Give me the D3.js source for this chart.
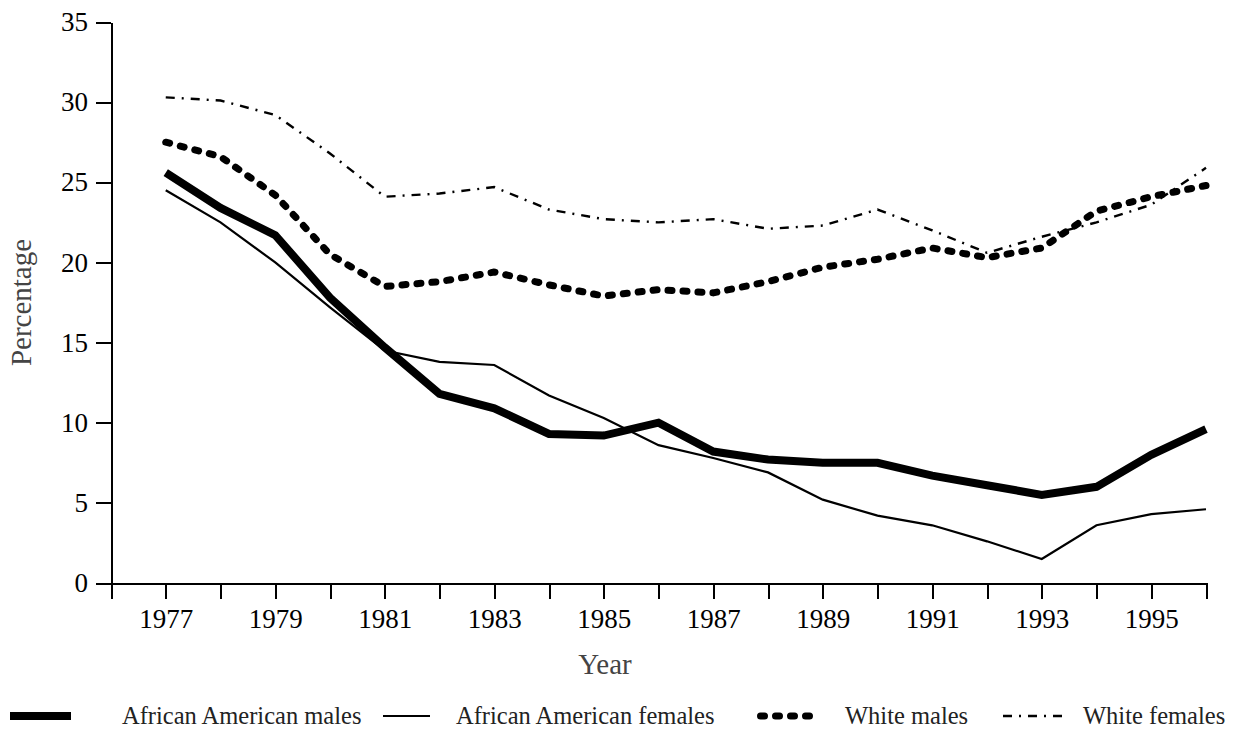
<!DOCTYPE html>
<html>
<head>
<meta charset="utf-8">
<script src="https://cdn.jsdelivr.net/npm/d3@7"></script>
<style>
  body { margin: 0; background: #fff; }
  svg { display: block; }
  .axis path, .axis line { stroke: #000; stroke-width: 2; shape-rendering: crispEdges; }
  .axis text { font-family: "Liberation Serif", "Times New Roman", serif; font-size: 27px; fill: #000; }
  .title { font-family: "Liberation Serif", serif; font-size: 29px; fill: #444; }
  .legend text { font-family: "Liberation Serif", serif; font-size: 24.5px; fill: #222; }
</style>
</head>
<body>
<div id="chart"></div>
<script>
// years on the x axis
var years = [1977, 1978, 1979, 1980, 1981, 1982, 1983, 1984, 1985, 1986,
             1987, 1988, 1989, 1990, 1991, 1992, 1993, 1994, 1995, 1996];

var aaMales   = [25.6, 23.4, 21.7, 17.8, 14.7, 11.8, 10.9, 9.3, 9.2, 10.0,
                 8.2, 7.7, 7.5, 7.5, 6.7, 6.1, 5.5, 6.0, 8.0, 9.6];
var aaFemales = [24.5, 22.5, 20.0, 17.2, 14.5, 13.8, 13.6, 11.7, 10.3, 8.6,
                 7.8, 6.9, 5.2, 4.2, 3.6, 2.6, 1.5, 3.6, 4.3, 4.6];
var whMales   = [27.5, 26.6, 24.2, 20.5, 18.5, 18.8, 19.4, 18.6, 17.9, 18.3,
                 18.1, 18.8, 19.7, 20.2, 20.9, 20.3, 20.9, 23.2, 24.1, 24.8];
var whFemales = [30.3, 30.1, 29.2, 26.8, 24.1, 24.3, 24.7, 23.3, 22.7, 22.5,
                 22.7, 22.1, 22.3, 23.3, 22.0, 20.6, 21.6, 22.5, 23.6, 25.9];

var yTicks = [0, 5, 10, 15, 20, 25, 30, 35];
var xTicks = d3.range(1976, 1997);
var xLabels = [1977, 1979, 1981, 1983, 1985, 1987, 1989, 1991, 1993, 1995];

var seriesNames = ['African American males', 'African American females', 'White males', 'White females'];

var W = 1234, H = 736;
var margin = {top: 22, right: 28, bottom: 153, left: 111};

// line styles per series
var styles = [
  {width: 8, dash: null, cap: 'butt', join: 'miter'},
  {width: 2.2, dash: null, cap: 'butt', join: 'miter'},
  {width: 7, dash: '4,11', cap: 'round', join: 'round'},
  {width: 2.4, dash: '9,7,2,7', cap: 'butt', join: 'miter'}
];
var series = [aaMales, aaFemales, whMales, whFemales];

var svg = d3.select('#chart').append('svg')
    .attr('width', W)
    .attr('height', H);

var x = d3.scaleLinear()
    .domain([1976, 1996])
    .range([margin.left, W - margin.right]);

var y = d3.scaleLinear()
    .domain([0, 35])
    .range([H - margin.bottom, margin.top]);

// axes
var xAxis = d3.axisBottom(x)
    .tickValues(xTicks)
    .tickSize(16)
    .tickSizeOuter(0)
    .tickPadding(10)
    .tickFormat(function(d) { return xLabels.indexOf(d) >= 0 ? d : ''; });

var yAxis = d3.axisLeft(y)
    .tickValues(yTicks)
    .tickSize(15)
    .tickSizeOuter(0)
    .tickPadding(8);

svg.append('g')
    .attr('class', 'axis x')
    .attr('transform', 'translate(0,' + y(0) + ')')
    .call(xAxis);

svg.append('g')
    .attr('class', 'axis y')
    .attr('transform', 'translate(' + x(1976) + ',0)')
    .call(yAxis);

// axis titles
svg.append('text')
    .attr('class', 'title')
    .attr('text-anchor', 'middle')
    .attr('transform', 'translate(31,' + y(17.5) + ') rotate(-90)')
    .text('Percentage');

svg.append('text')
    .attr('class', 'title')
    .attr('text-anchor', 'middle')
    .attr('x', 605)
    .attr('y', 674)
    .text('Year');

// lines
var line = d3.line()
    .x(function(d, i) { return x(years[i]); })
    .y(function(d) { return y(d); });

series.forEach(function(s, k) {
  var st = styles[k];
  svg.append('path')
      .datum(s)
      .attr('fill', 'none')
      .attr('stroke', '#000')
      .attr('stroke-width', st.width)
      .attr('stroke-dasharray', st.dash)
      .attr('stroke-linecap', st.cap)
      .attr('stroke-linejoin', st.join)
      .attr('d', line);
});

// legend
var legendPos = [
  {x0: 10, x1: 71, tx: 122},
  {x0: 383, x1: 430, tx: 456},
  {x0: 757, x1: 812, tx: 845},
  {x0: 1003, x1: 1062, tx: 1083}
];
var legend = svg.append('g').attr('class', 'legend');
var ly = 716;

seriesNames.forEach(function(name, k) {
  var st = styles[k], p = legendPos[k];
  legend.append('line')
      .attr('x1', p.x0 + (st.cap === 'round' ? st.width / 2 : 0))
      .attr('x2', p.x1)
      .attr('y1', ly)
      .attr('y2', ly)
      .attr('stroke', '#000')
      .attr('stroke-width', st.width)
      .attr('stroke-dasharray', st.dash)
      .attr('stroke-linecap', st.cap);
  legend.append('text')
      .attr('x', p.tx)
      .attr('y', ly + 8)
      .text(name);
});
</script>
</body>
</html>
